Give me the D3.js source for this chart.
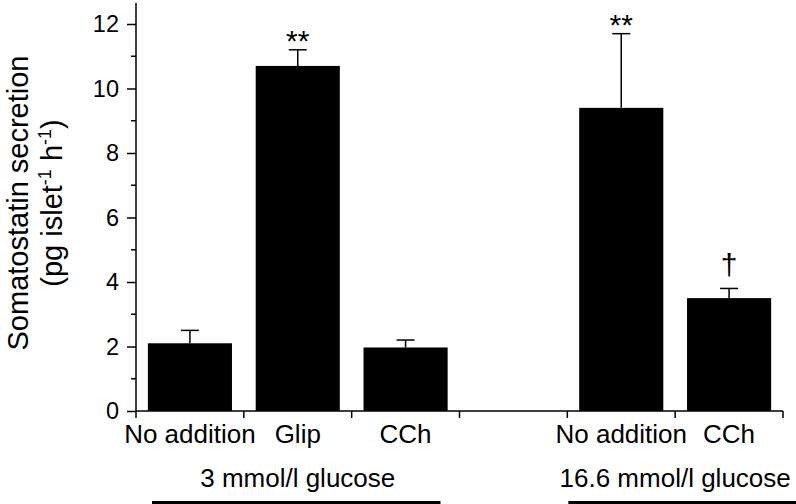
<!DOCTYPE html>
<html>
<head>
<meta charset="utf-8">
<script src="https://cdn.jsdelivr.net/npm/d3@7"></script>
<style>
  body { margin: 0; background: #fff; }
  svg { display: block; font-family: "Liberation Sans", Arial, Helvetica, sans-serif; }
</style>
</head>
<body>
<div id="figure"></div>
<script>
'use strict';

// slots along the x axis (the 4th one is an empty gap)
const slots = ['s1', 's2', 's3', 'gap', 's4', 's5'];
const slotLabels = ['No addition', 'Glip', 'CCh', '', 'No addition', 'CCh'];
const barSlots = ['s1', 's2', 's3', 's4', 's5'];
const means = [2.1, 10.7, 1.97, 9.4, 3.5];
const errTops = [2.5, 11.2, 2.2, 11.7, 3.8];
const marks = ['', '**', '', '**', '\u2020'];
const groups = ['3 mmol/l glucose', '16.6 mmol/l glucose'];
const groupSlots = [['s1', 's3'], ['s4', 's5']];
const yTicks = [0, 2, 4, 6, 8, 10, 12];
const yMinorTicks = [1, 3, 5, 7, 9, 11];

const width = 796;
const height = 504;
const margin = { left: 136, right: 13, top: 3, bottom: 93 };

const x = d3.scaleBand()
  .domain(slots)
  .range([margin.left, width - margin.right])
  .padding(0);

const y = d3.scaleLinear()
  .domain([0, 12])
  .range([411, 24]);

const svg = d3.select('div#figure')
  .append('svg')
  .attr('width', width)
  .attr('height', height)
  .attr('viewBox', [0, 0, width, height]);

// y axis
const yAxis = svg.append('g')
  .attr('transform', `translate(${margin.left},0)`)
  .call(d3.axisLeft(y).tickValues(yTicks).tickFormat(d3.format('d')).tickSize(9).tickPadding(8).tickSizeOuter(0));
yAxis.select('.domain').attr('d', `M0,${margin.top}V${y(0)}`);
yAxis.selectAll('line, path').attr('stroke', '#000').attr('stroke-width', 1.5);
yAxis.selectAll('text').attr('font-size', 23.5).attr('font-family', null).attr('fill', '#000');

svg.append('g')
  .attr('transform', `translate(${margin.left},0)`)
  .selectAll('line')
  .data(yMinorTicks)
  .join('line')
  .attr('x1', -5)
  .attr('x2', 0)
  .attr('y1', d => y(d))
  .attr('y2', d => y(d))
  .attr('stroke', '#000')
  .attr('stroke-width', 1.5);

// x axis
const boundaries = slots.map(s => x(s)).concat([x.range()[1]]);
svg.append('line')
  .attr('x1', margin.left)
  .attr('x2', x.range()[1])
  .attr('y1', y(0))
  .attr('y2', y(0))
  .attr('stroke', '#000')
  .attr('stroke-width', 1.5);

svg.append('g')
  .selectAll('line')
  .data(boundaries)
  .join('line')
  .attr('x1', d => d)
  .attr('x2', d => d)
  .attr('y1', y(0))
  .attr('y2', y(0) + 7)
  .attr('stroke', '#000')
  .attr('stroke-width', 1.5);

svg.append('g')
  .selectAll('text')
  .data(slots)
  .join('text')
  .attr('x', d => x(d) + x.bandwidth() / 2)
  .attr('y', 443)
  .attr('text-anchor', 'middle')
  .attr('font-size', 26)
  .text((d, i) => slotLabels[i]);

// bars
const barW = x.bandwidth() * 0.78;
const cx = s => x(s) + x.bandwidth() / 2;

svg.append('g')
  .selectAll('rect')
  .data(barSlots)
  .join('rect')
  .attr('x', d => cx(d) - barW / 2)
  .attr('y', (d, i) => y(means[i]))
  .attr('width', barW)
  .attr('height', (d, i) => y(0) - y(means[i]))
  .attr('fill', '#000');

// error bars
const errG = svg.append('g').attr('stroke', '#000').attr('stroke-width', 1.5);
barSlots.forEach((s, i) => {
  errG.append('line')
    .attr('x1', cx(s)).attr('x2', cx(s))
    .attr('y1', y(means[i])).attr('y2', y(errTops[i]));
  errG.append('line')
    .attr('x1', cx(s) - 9).attr('x2', cx(s) + 9)
    .attr('y1', y(errTops[i])).attr('y2', y(errTops[i]));
});

// significance marks
svg.append('g')
  .selectAll('text')
  .data(barSlots)
  .join('text')
  .attr('x', d => cx(d))
  .attr('y', (d, i) => marks[i] === '\u2020' ? y(errTops[i]) - 13 : y(errTops[i]) + 1)
  .attr('text-anchor', 'middle')
  .attr('font-size', (d, i) => marks[i] === '\u2020' ? 30 : 30)
  .text((d, i) => marks[i]);

// group labels and underlines
groups.forEach((g, i) => {
  const [a, b] = groupSlots[i];
  const left = x(a);
  const right = x(b) + x.bandwidth();
  svg.append('text')
    .attr('x', (left + right) / 2)
    .attr('y', 487)
    .attr('text-anchor', 'middle')
    .attr('font-size', 26)
    .text(g);
  svg.append('rect')
    .attr('x', i === 0 ? left + 16 : left + 1)
    .attr('y', 501)
    .attr('width', i === 0 ? right - left - 35 : right - left + 20)
    .attr('height', 4)
    .attr('fill', '#000');
});

// y axis title
const yTitle = svg.append('text')
  .attr('transform', 'translate(28,203) rotate(-90)')
  .attr('text-anchor', 'middle')
  .attr('font-size', 29);
yTitle.append('tspan').attr('x', 0).attr('dy', 0).text('Somatostatin secretion');
const line2 = yTitle.append('tspan').attr('x', 0).attr('dy', 34);
line2.append('tspan').text('(pg islet');
line2.append('tspan').attr('font-size', 18).attr('dy', -11).text('-1');
line2.append('tspan').attr('dy', 11).text(' h');
line2.append('tspan').attr('font-size', 18).attr('dy', -11).text('-1');
line2.append('tspan').attr('dy', 11).text(')');
</script>
</body>
</html>
